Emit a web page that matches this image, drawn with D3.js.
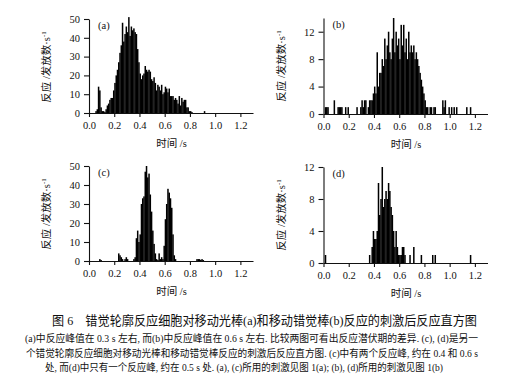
<!DOCTYPE html>
<html>
<head>
<meta charset="utf-8">
<script src="https://cdn.jsdelivr.net/npm/d3@7"></script>
<style>
  body { margin: 0; background: #fff; }
  text { font-family: "Liberation Serif", "Noto Sans CJK SC", serif; fill: #111; }
</style>
</head>
<body>
<script>
// bin width of the histograms (s)
var binWidth = 0.01;
var xTicks = [0, 0.2, 0.4, 0.6, 0.8, 1.0, 1.2];

// response (spikes/s) per 10 ms bin, starting at t = 0
var valuesA = [
  0, 0, 0, 0, 0, 1, 2, 14, 12, 3,
  1, 1, 0.5, 2, 4, 5, 7, 8, 8, 12,
  16, 20, 23, 27, 32, 36, 48, 38, 42, 46,
  43, 51, 41, 46, 44, 45, 43, 42, 34, 27,
  21, 18, 20, 21, 25, 23, 22, 23, 22, 18,
  17, 19, 16, 12, 15, 14, 12, 15, 10, 11,
  14, 13, 11, 13, 9, 9, 9, 7, 8, 7,
  5, 9, 4, 8, 6, 7, 7, 3, 3, 1,
  1, 0.5, 0, 0, 0, 0, 0, 0, 0, 0,
  0, 1, 0, 0, 0, 0, 0, 0, 0, 0,
  0, 0, 0, 0, 0, 0, 0, 0, 0, 0,
  0, 0, 0, 0, 0, 0, 0, 0, 0, 0,
  0, 0, 0, 0, 0, 0, 0, 0, 0, 0
];
var valuesB = [
  0, 1, 1, 1, 0, 0, 0, 0, 2, 0,
  0, 1, 1, 1, 1, 0, 0, 1, 0, 1,
  0, 0, 0, 0, 0, 0, 1, 0, 0, 1,
  2, 1, 2, 2, 0, 1, 2, 2, 2, 3,
  4, 3, 9, 4, 6, 6, 8, 7, 11, 8,
  10, 12, 9, 8, 11, 14, 9, 12, 10, 11,
  8, 13, 10, 13, 9, 11, 8, 12, 9, 10,
  9, 10, 8, 9, 8, 7, 6, 5, 4, 3,
  2, 1, 1, 0, 1, 1, 0, 1, 1, 0,
  0, 0, 0, 0, 2, 1, 2, 0, 0, 1,
  0, 1, 0, 1, 0, 1, 0, 0, 0, 0,
  0, 0, 0, 1, 0, 0, 1, 0, 0, 0,
  0, 0, 0, 0, 0, 0, 0, 0, 0, 0
];
var valuesC = [
  0, 0, 0, 0, 0, 0, 0, 0, 1, 0.5,
  0, 0, 0, 0, 0, 0, 0, 0, 0, 0,
  0, 0, 0, 4, 3, 2, 1, 0, 1, 2,
  1, 0, 0, 0, 0, 1, 2, 12, 16, 10,
  14, 30, 33, 34, 47, 50, 44, 46, 35, 26,
  16, 9, 4, 1, 0.5, 4, 1, 2, 1, 8,
  22, 30, 38, 36, 33, 28, 14, 3, 1, 0,
  0, 0, 0, 0, 0, 0, 0, 0, 0, 0,
  0, 0, 0, 0, 0, 1, 1, 1, 0.5, 1,
  0.5, 0, 0, 0, 0, 0, 0, 0, 0, 0,
  0, 0, 0, 0, 0, 0, 0, 0, 0, 0,
  0, 0, 0, 0, 0, 0, 0, 0, 0, 0,
  0, 0, 0, 0, 0, 0, 0, 0, 0, 0
];
var valuesD = [
  0, 1, 0, 0, 0, 0, 0, 0, 0, 0,
  0, 0, 0, 0, 0, 0, 0, 0, 0, 0,
  0, 0, 0, 0, 0, 0, 0, 0, 0, 0,
  0, 0, 0, 0, 0, 0, 1, 0, 2, 4,
  3, 3, 4, 10, 6, 8, 12, 7, 8, 9,
  8, 10, 9, 7, 6, 4, 2, 4, 2, 1,
  1, 1, 2, 2, 1, 0, 0, 0, 1, 0,
  0, 2, 0, 0, 0, 0, 0, 1, 0, 0,
  0, 0, 0, 0, 0, 0, 1, 0, 1, 0,
  0, 0, 0, 0, 0, 0, 0, 0, 0, 0,
  0, 0, 0, 0, 0, 0, 0, 0, 0, 0,
  0, 0, 0, 0, 0, 0, 1, 0, 0, 0,
  0, 0, 0, 0, 0, 0, 0, 0, 0, 0
];

var yTicksA = [0, 10, 20, 30, 40, 50];
var yTicksB = [0, 4, 8, 12];
var panelLetters = ["(a)", "(b)", "(c)", "(d)"];

var xLabel = "时间 /s";
var yLabel = "反应 /发放数·s";
var captionTitle = "图 6　错觉轮廓反应细胞对移动光棒(a)和移动错觉棒(b)反应的刺激后反应直方图";
var captionLines = [
  "(a)中反应峰值在 0.3 s 左右, 而(b)中反应峰值在 0.6 s 左右. 比较两图可看出反应潜伏期的差异. (c), (d)是另一",
  "个错觉轮廓反应细胞对移动光棒和移动错觉棒反应的刺激后反应直方图. (c)中有两个反应峰, 约在 0.4 和 0.6 s",
  "处, 而(d)中只有一个反应峰, 约在 0.5 s 处. (a), (c)所用的刺激见图 1(a); (b), (d)所用的刺激见图 1(b)"
];

var svg = d3.select("body").append("svg")
    .attr("width", 525)
    .attr("height", 378);

// one histogram panel
function drawPanel(values, yMax, yTicks, letter, box) {
  var x = d3.scaleLinear().domain([0, 1.3]).range([box.left, box.right]);
  var y = d3.scaleLinear().domain([0, yMax]).range([box.bottom, box.top]);
  var g = svg.append("g");

  g.selectAll("rect.bar")
    .data(values)
    .enter().append("rect")
    .attr("class", "bar")
    .attr("x", (d, i) => x(i * binWidth))
    .attr("width", (d, i) => x((i + 1) * binWidth) - x(i * binWidth) + 0.25)
    .attr("y", d => y(d))
    .attr("height", d => y(0) - y(d))
    .attr("fill", "#000");

  var xAxis = g.append("g")
    .attr("transform", "translate(0," + box.bottom + ")")
    .call(d3.axisBottom(x).tickValues(xTicks).tickFormat(d3.format(".1f"))
      .tickSize(4).tickSizeOuter(0).tickPadding(5));
  var yAxis = g.append("g")
    .attr("transform", "translate(" + box.left + ",0)")
    .call(d3.axisLeft(y).tickValues(yTicks)
      .tickSize(5).tickSizeOuter(0).tickPadding(4));

  [xAxis, yAxis].forEach(function(a) {
    a.selectAll("path, line").attr("stroke", "#111").attr("stroke-width", 1.1);
    a.selectAll("text").attr("font-size", 10.5).attr("fill", "#111")
      .style("font-family", "'Liberation Serif', serif");
  });

  g.append("text")
    .attr("x", box.left + 9)
    .attr("y", box.top + 10)
    .attr("font-size", 10.5)
    .text(letter);

  g.append("text")
    .attr("x", (box.left + box.right) / 2 + 0.5)
    .attr("y", box.bottom + 34)
    .attr("text-anchor", "middle")
    .attr("font-size", 10.5)
    .text(xLabel);

  var yl = g.append("text")
    .attr("transform", "translate(" + (box.left - 39) + "," + (box.top + 48) + ") rotate(-90)")
    .attr("text-anchor", "middle")
    .attr("font-size", 10.5)
    .text(yLabel);
  yl.append("tspan")
    .attr("dy", -4)
    .attr("font-size", 7)
    .text("-1");
}

drawPanel(valuesA, 50, yTicksA, panelLetters[0], {left: 89, right: 253, top: 19, bottom: 113});
drawPanel(valuesB, 14, yTicksB, panelLetters[1], {left: 323.5, right: 487.5, top: 18, bottom: 114});
drawPanel(valuesC, 50, yTicksA, panelLetters[2], {left: 89, right: 253, top: 166, bottom: 261});
drawPanel(valuesD, 12, yTicksB, panelLetters[3], {left: 323.5, right: 487.5, top: 167, bottom: 263});

// figure caption
svg.append("text")
  .attr("x", 52)
  .attr("y", 325)
  .attr("font-size", 13)
  .attr("textLength", 425)
  .attr("lengthAdjust", "spacingAndGlyphs")
  .text(captionTitle);

var capX = [25, 26, 45];
var capY = [342, 357, 371];
var capW = [453, 452, 398];
captionLines.forEach(function(line, i) {
  svg.append("text")
    .attr("x", capX[i])
    .attr("y", capY[i])
    .attr("font-size", 10)
    .attr("textLength", capW[i])
    .attr("lengthAdjust", "spacingAndGlyphs")
    .text(line);
});
</script>
</body>
</html>
